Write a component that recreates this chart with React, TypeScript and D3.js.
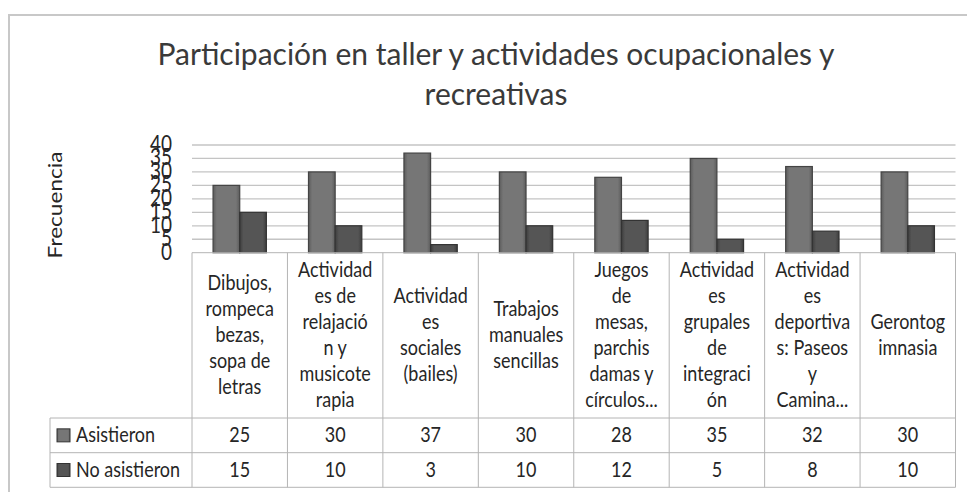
import React from 'react'
import * as d3 from 'd3'

// chart data
const categories = [
  'Dibujos, rompecabezas, sopa de letras',
  'Actividades de relajación y musicoterapia',
  'Actividades sociales (bailes)',
  'Trabajos manuales sencillas',
  'Juegos de mesas, parchis damas y círculos...',
  'Actividades grupales de integración',
  'Actividades deportivas: Paseos y Camina...',
  'Gerontogimnasia',
]
// wrapped tick labels as they appear in the table header
const categoryLines = [
  ['Dibujos,', 'rompeca', 'bezas,', 'sopa de', 'letras'],
  ['Actividad', 'es de', 'relajació', 'n y', 'musicote', 'rapia'],
  ['Actividad', 'es', 'sociales', '(bailes)'],
  ['Trabajos', 'manuales', 'sencillas'],
  ['Juegos', 'de', 'mesas,', 'parchis', 'damas y', 'círculos...'],
  ['Actividad', 'es', 'grupales', 'de', 'integraci', 'ón'],
  ['Actividad', 'es', 'deportiva', 's: Paseos', 'y', 'Camina...'],
  ['Gerontog', 'imnasia'],
]
const seriesNames = ['Asistieron', 'No asistieron']
const asistieron = [25, 30, 37, 30, 28, 35, 32, 30]
const noAsistieron = [15, 10, 3, 10, 12, 5, 8, 10]
const yTicks = [0, 5, 10, 15, 20, 25, 30, 35, 40]

const title = ['Participación en taller y actividades ocupacionales y', 'recreativas']
const yLabel = 'Frecuencia'

const W = 967
const H = 492
const FONT = 'Lato, "Open Sans", sans-serif'
const TEXT = '#262626'
const GRID = '#c4c4c4'
const TABLE = '#b4b4b4'
const colors = ['#767676', '#555555']
const edges = ['#5c5c5c', '#3e3e3e']

// text with a slight vertical stretch, like the source picture
const T = ({ x, y, size, anchor = 'middle', sy = 1.18, fill = TEXT, children }: any) => (
  <text
    transform={`translate(${x},${y}) scale(1,${sy})`}
    textAnchor={anchor}
    fontSize={size}
    fontFamily={FONT}
    fill={fill}>
    {children}
  </text>
)

export default function App() {
  const plot = { left: 192, right: 955.5, top: 145, bottom: 252.7 }
  const tableLeft = 50
  const headerBottom = 418
  const row1Bottom = 452.7
  const row2Bottom = 487.3

  const x = d3.scaleBand<string>().domain(categories).range([plot.left, plot.right])
  const xs = d3
    .scaleBand<string>()
    .domain(seriesNames)
    .range([0, x.bandwidth()])
    .paddingInner(0)
    .paddingOuter(0.79)
  const y = d3.scaleLinear().domain([0, 40]).range([plot.bottom, plot.top])

  const series = [asistieron, noAsistieron]
  const cellCenter = (plot.bottom + headerBottom) / 2
  const lh = 26

  return (
    <svg
      width={W}
      height={H}
      style={{ position: 'absolute', left: 0, top: 0, background: '#fff' }}>
      <defs>
        {colors.map((c, i) => (
          <linearGradient key={i} id={`bar${i}`} x1="0" x2="1" y1="0" y2="0">
            <stop offset="0" stopColor={edges[i]} />
            <stop offset="0.14" stopColor={c} />
            <stop offset="0.86" stopColor={c} />
            <stop offset="1" stopColor={edges[i]} />
          </linearGradient>
        ))}
      </defs>

      {/* chart area border (only top and left visible) */}
      <line x1={8} x2={W} y1={15} y2={15} stroke="#c8c8c8" strokeWidth={2} />
      <line x1={9} x2={9} y1={14} y2={H} stroke="#c8c8c8" strokeWidth={2} />

      {/* title */}
      {title.map((t, i) => (
        <T key={i} x={496} y={65 + i * 40} size={30} sy={1.03} fill="#3a3a3a">
          {t}
        </T>
      ))}

      {/* gridlines */}
      {yTicks
        .filter((t) => t > 0)
        .map((t) => (
          <line key={t} x1={plot.left} x2={plot.right} y1={y(t)} y2={y(t)} stroke={GRID} strokeWidth={1.3} />
        ))}

      {/* y tick labels */}
      {yTicks.map((t) => (
        <T key={t} x={172} y={y(t) + 7} size={19} anchor="end" sy={1.25}>
          {t}
        </T>
      ))}

      {/* y axis title */}
      <text
        transform={`translate(62,205) rotate(-90) scale(1.13,1)`}
        textAnchor="middle"
        fontSize={20}
        fontFamily={FONT}
        fill={TEXT}>
        {yLabel}
      </text>

      {/* bars */}
      {series.map((vals, si) =>
        vals.map((v, ci) => (
          <rect
            key={`${si}-${ci}`}
            x={(x(categories[ci]) as number) + (xs(seriesNames[si]) as number)}
            y={y(v)}
            width={xs.bandwidth()}
            height={y(0) - y(v)}
            fill={`url(#bar${si})`}
            stroke={si === 0 ? '#444' : '#333'}
            strokeWidth={1.2}
          />
        ))
      )}

      {/* data table */}
      <g stroke={TABLE} strokeWidth={1}>
        <line x1={plot.left} x2={plot.right} y1={plot.bottom} y2={plot.bottom} />
        <line x1={tableLeft} x2={plot.right} y1={headerBottom} y2={headerBottom} />
        <line x1={tableLeft} x2={plot.right} y1={row1Bottom} y2={row1Bottom} />
        <line x1={tableLeft} x2={plot.right} y1={row2Bottom} y2={row2Bottom} />
        <line x1={tableLeft} x2={tableLeft} y1={headerBottom} y2={row2Bottom} />
        {categories.map((c) => (
          <line key={c} x1={x(c)} x2={x(c)} y1={plot.bottom} y2={row2Bottom} />
        ))}
        <line x1={plot.right} x2={plot.right} y1={plot.bottom} y2={row2Bottom} />
      </g>

      {/* header labels */}
      {categoryLines.map((lines, ci) => {
        const cx = (x(categories[ci]) as number) + x.bandwidth() / 2
        const first = cellCenter - ((lines.length - 1) / 2) * lh + 7
        return lines.map((l, li) => (
          <T key={`${ci}-${li}`} x={cx} y={first + li * lh} size={18}>
            {l}
          </T>
        ))
      })}

      {/* legend keys + values */}
      {series.map((vals, si) => {
        const top = si === 0 ? headerBottom : row1Bottom
        const bottom = si === 0 ? row1Bottom : row2Bottom
        const mid = (top + bottom) / 2
        return (
          <g key={si}>
            <rect
              x={57}
              y={mid - 6.5}
              width={13}
              height={13}
              fill={`url(#bar${si})`}
              stroke="#333"
              strokeWidth={1}
            />
            <T x={76} y={mid + 7} size={18} anchor="start">
              {seriesNames[si]}
            </T>
            {vals.map((v, ci) => (
              <T key={ci} x={(x(categories[ci]) as number) + x.bandwidth() / 2} y={mid + 7} size={18}>
                {v}
              </T>
            ))}
          </g>
        )
      })}
    </svg>
  )
}
